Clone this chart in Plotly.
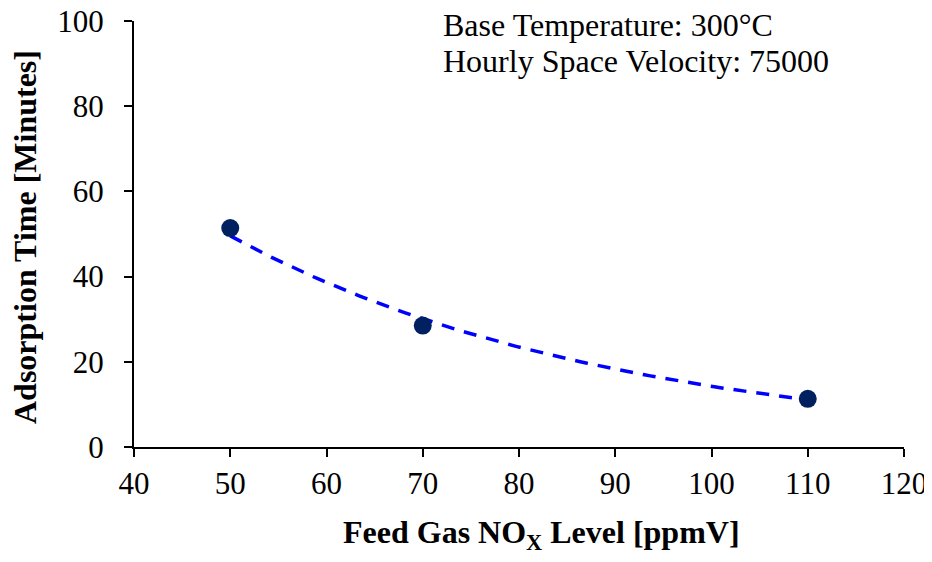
import numpy as np
import plotly.graph_objects as go

nox_ppmv = [50, 70, 110]
adsorption_min = [51.4, 28.5, 11.3]
x_ticks = [40, 50, 60, 70, 80, 90, 100, 110, 120]
y_ticks = [0, 20, 40, 60, 80, 100]
note_lines = ["Base Temperature: 300°C", "Hourly Space Velocity: 75000"]
x_title = "<b>Feed Gas NO<sub>X</sub> Level [ppmV]</b>"
y_title = "<b>Adsorption Time [Minutes]</b>"

# exponential trendline fitted to the data
b, a = np.polyfit(nox_ppmv, np.log(adsorption_min), 1)
xt = np.linspace(min(nox_ppmv), max(nox_ppmv), 100)
yt = np.exp(a + b * xt)

FONT = "Liberation Serif"
OFF = 8  # page body margin offset
# plot area in window pixels
X0, X1, Y0, Y1 = 134, 904, 21, 447
PW, PH = X1 - X0, Y1 - Y0
W, H = 932 - OFF, 562 - OFF
L, T = X0 - OFF, Y0 - OFF
R, B = W - L - PW, H - T - PH


def px(x):
    return (x - X0) / PW


def py(y):
    return (Y1 - y) / PH


fig = go.Figure()
fig.add_trace(go.Scatter(x=xt, y=yt, mode="lines",
                         line=dict(color="#0000FF", width=3.5, dash="13px,10px"),
                         showlegend=False, hoverinfo="skip"))
fig.add_trace(go.Scatter(x=nox_ppmv, y=adsorption_min, mode="markers",
                         marker=dict(color="#002060", size=18),
                         showlegend=False))

for i, t in enumerate(note_lines):
    fig.add_annotation(text=t, xref="paper", yref="paper",
                       x=px(441), y=py(5 + 36 * i),
                       xanchor="left", yanchor="top", showarrow=False,
                       font=dict(family=FONT, size=32, color="black"))

fig.add_annotation(text=x_title, xref="paper", yref="paper",
                   x=px(541), y=py(534),
                   xanchor="center", yanchor="middle", showarrow=False,
                   font=dict(family=FONT, size=32, color="black"))
fig.add_annotation(text=y_title, xref="paper", yref="paper",
                   x=px(25), y=py(237),
                   xanchor="center", yanchor="middle", showarrow=False,
                   textangle=-90,
                   font=dict(family=FONT, size=32, color="black"))

fig.update_layout(
    width=W, height=H,
    margin=dict(l=L, r=R, t=T, b=B),
    paper_bgcolor="white", plot_bgcolor="white",
    font=dict(family=FONT, size=31, color="black"),
    xaxis=dict(range=[40, 120], tickvals=x_ticks, showgrid=False, zeroline=False,
               showline=True, linecolor="black", linewidth=2, automargin=False,
               ticks="outside", ticklen=8, tickwidth=2, tickcolor="black",
               ticklabeloverflow="allow",
               tickfont=dict(family=FONT, size=31)),
    yaxis=dict(range=[0, 100], tickvals=y_ticks, showgrid=False, zeroline=False,
               showline=True, linecolor="black", linewidth=2, automargin=False,
               ticks="outside", ticklen=8, tickwidth=2, tickcolor="black",
               ticklabelstandoff=14, ticklabeloverflow="allow",
               tickfont=dict(family=FONT, size=31)),
)

fig.write_html("out.html")
